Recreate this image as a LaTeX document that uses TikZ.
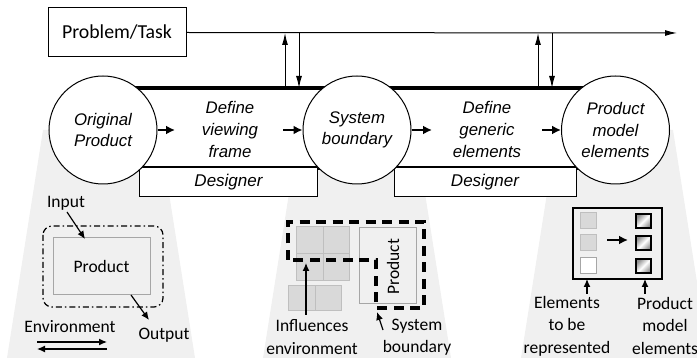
\documentclass[tikz,border=0pt]{standalone}
\usepackage{fontspec}
\setmainfont{Carlito}
\newfontfamily\arialfont{Liberation Sans}
\usetikzlibrary{arrows.meta}
\definecolor{fan}{HTML}{F0F0F0}
\definecolor{cellfill}{HTML}{D9D9D9}
\definecolor{celledge}{HTML}{BFBFBF}
\definecolor{boxedge}{HTML}{A6A6A6}
\begin{document}
\begin{tikzpicture}[x=1pt,y=-1pt,
  tasknode/.style={draw, line width=1pt, minimum width=138pt, minimum height=49pt,
    inner sep=0pt, font=\fontsize{19.8}{24}\selectfont},
  stage/.style={circle, draw, fill=white, line width=1pt, minimum size=108pt,
    inner sep=0pt, align=center, font=\arialfont\itshape\fontsize{16.8}{21.5}\selectfont},
  activity/.style={align=center, inner sep=0pt,
    font=\arialfont\itshape\fontsize{16.8}{22}\selectfont},
  designer/.style={draw, fill=white, line width=1pt, minimum height=29pt, inner sep=0pt,
    font=\arialfont\itshape\fontsize{17}{20}\selectfont},
  note/.style={align=center, inner sep=0pt, font=\fontsize{17.5}{22.5}\selectfont},
  greybox/.style={draw=boxedge, line width=1pt, inner sep=0pt},
  cell/.style={draw=celledge, fill=cellfill, line width=1pt},
  thinarrow/.style={-{Latex[length=12pt,width=6pt]}, line width=1pt},
  boldarrow/.style={-{Latex[length=9pt,width=9pt]}, line width=2.2pt},
  smallarrow/.style={-{Latex[length=8pt,width=7pt]}, line width=1.2pt},
  band/.style={line width=3.2pt}]

\clip (0,0) rectangle (697,358);

% light fans below each stage
\foreach \cx in {101,357,615}
  \fill[fan] (\cx-58,130) -- (\cx+58,130) -- (\cx+94,358) -- (\cx-94,358) -- cycle;

% problem/task line
\node[tasknode] (task) at (117,32.5) {Problem/Task};
\coordinate (taskend) at (677,33);
\draw[thinarrow] (task.east) -- (taskend);

% activity band
\fill[white] (103,88) rectangle (615,168);
\draw[band] (103,88) -- (615,88);
\draw[band] (103,168) -- (615,168);

% designers
\node[designer, minimum width=178pt] (des1) at (228.5,182.5) {Designer};
\node[designer, minimum width=182pt] (des2) at (485,182.5) {Designer};

% stages
\node[stage] (c1) at (103,130) {Original\\Product};
\node[stage] (c2) at (357,130) {System\\boundary};
\node[stage] (c3) at (615.5,130) {Product\\model\\elements};

% activities
\node[activity] (p1) at (230,129) {Define\\viewing\\frame};
\node[activity] (p2) at (487,129) {Define\\generic\\elements};

% flow arrows
\coordinate (f1) at (175,130);
\coordinate (f2) at (283,130);
\coordinate (f3) at (432,130);
\coordinate (f4) at (542,130);
\draw[boldarrow] (c1.east) -- (f1);
\draw[boldarrow] (f2) -- (c2.west);
\draw[boldarrow] (c2.east) -- (f3);
\draw[boldarrow] (f4) -- (c3.west);

% feedback with the task line
\coordinate (u1a) at (285,88); \coordinate (u1b) at (285,33);
\coordinate (d1a) at (299,33); \coordinate (d1b) at (299,88);
\coordinate (u2a) at (538,88); \coordinate (u2b) at (538,33);
\coordinate (d2a) at (552,33); \coordinate (d2b) at (552,88);
\draw[thinarrow] (u1a) -- (u1b);
\draw[thinarrow] (d1a) -- (d1b);
\draw[thinarrow] (u2a) -- (u2b);
\draw[thinarrow] (d2a) -- (d2b);

% ---- viewing frame sketch
\draw[line width=1.2pt, rounded corners=9pt,
  dash pattern=on 6pt off 3pt on 1.5pt off 3pt] (43,226) rectangle (163,307);
\node[greybox, minimum width=97pt, minimum height=57pt, font=\fontsize{17.5}{20}\selectfont]
  (prod1) at (101.5,266.5) {Product};
\node[note] (inp) at (66,203) {Input};
\node[note] (outp) at (164,335) {Output};
\node[note] (env) at (70,327) {Environment};
\coordinate (inpA) at (67,212);
\coordinate (inpB) at (85,239);
\coordinate (outA) at (131,295);
\coordinate (outB) at (149,320);
\draw[smallarrow] (inpA) -- (inpB);
\draw[smallarrow] (outA) -- (outB);
\coordinate (e1) at (37,342); \coordinate (e2) at (107,342);
\coordinate (e3) at (107,349); \coordinate (e4) at (37,349);
\draw[smallarrow] (e1) -- (e2);
\draw[smallarrow] (e3) -- (e4);

% ---- system boundary sketch
\draw[cell] (296,227) rectangle (323,254);
\draw[cell] (323,227) rectangle (349,254);
\draw[cell] (296,254) rectangle (323,281);
\draw[cell] (323,254) rectangle (349,281);
\draw[cell] (288,286) rectangle (315,311);
\draw[cell] (315,286) rectangle (341,311);
\node[greybox, minimum width=57pt, minimum height=76pt] (prod2) at (387.5,266) {};
\node[rotate=90, inner sep=0pt, font=\fontsize{17.5}{20}\selectfont] (prod2t) at (393,267) {Product};
\draw[line width=3.3pt, dash pattern=on 10pt off 6.5pt]
  (288,260) -- (288,222) -- (424,222) -- (424,308) -- (376,308) -- (376,260) -- cycle;
\node[note] (infl) at (312,337) {Influences\\environment};
\node[note] (sysb) at (417,337) {System\\boundary};
\coordinate (iA) at (306,315); \coordinate (iB) at (306,263);
\coordinate (sA) at (383,330); \coordinate (sB) at (377,312);
\draw[smallarrow] (iA) -- (iB);
\draw[smallarrow] (sA) -- (sB);

% ---- product model elements sketch
\draw[line width=1.3pt] (573,208) rectangle (662,279);
\foreach \y in {213,235}
  \draw[draw=celledge, fill=cellfill, line width=1pt] (580,\y) rectangle (596,\y+16);
\draw[draw=boxedge, fill=white, line width=1pt] (580,258) rectangle (596,274);
\foreach \y in {213,235,258}{
  \shade[top color=gray!85, bottom color=gray!85, middle color=white, shading angle=45]
    (636,\y+1) rectangle (651,\y+15);
  \draw[line width=2.2pt] (636,\y+1) rectangle (651,\y+15);
}
\coordinate (mA) at (607,240); \coordinate (mB) at (628,240);
\draw[boldarrow] (mA) -- (mB);
\coordinate (rA) at (587,294); \coordinate (rB) at (587,279);
\coordinate (qA) at (645,294); \coordinate (qB) at (645,279);
\draw[smallarrow] (rA) -- (rB);
\draw[smallarrow] (qA) -- (qB);
\node[note] (repr) at (567,326) {Elements\\to be\\represented};
\node[note, align=left, anchor=west] (pme) at (632,348) {elements};
\node[note] (pmm) at (665,314.5) {Product\\model};

\end{tikzpicture}
\end{document}
